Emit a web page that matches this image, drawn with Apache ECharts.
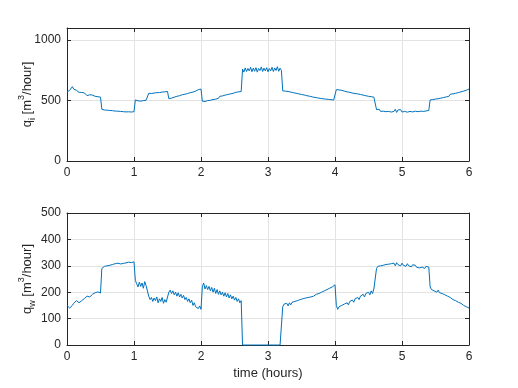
<!DOCTYPE html>
<html>
<head>
<meta charset="utf-8">
<script src="https://cdn.jsdelivr.net/npm/echarts@6/dist/echarts.min.js"></script>
<style>html,body{margin:0;padding:0;background:#fff}#c{width:518px;height:388px}</style>
</head>
<body>
<div id="c"></div>
<script>
// time step 0.02 h, 0..6 h (301 samples)
const qi = [
  570,575,585,600,615,595,590,585,570,568, 565,567,560,563,555,540,545,548,550,545, 540,535,538,532,530,528,
  428,425,422,426,420,424,418,421,416,420, 413,418,412,416,410,414,408,413,406,412, 407,410,405,411,408,
  505,515,498,510,495,508,500,512,502,512, 560,572,558,570,562,575,565,578,566,580, 570,582,572,585,575,
  515,505,520,510,528,518,535,525,540,530, 548,538,552,542,558,548,565,555,570,560, 578,568,590,578,595,
  495,505,492,508,500,512,502,518,508,522, 512,528,518,535,522,538,528,545,535,550, 540,555,548,560,552,568,558,572,565,575,
  760,735,770,740,765,745,775,738,768,742, 772,735,765,748,778,740,768,745,772,738, 765,745,775,740,770,748,780,742,768,750,
  580,590,578,588,575,582,570,578,565,572, 560,566,555,560,550,555,546,550,540,545, 536,540,530,535,526,530,522,527,518,522, 515,520,512,516,510,513,507,510,504,502,
  590,598,588,595,585,590,578,585,572,580, 568,575,562,570,558,566,555,562,550,558, 545,552,540,548,535,545,532,540,528,535,
  425,415,428,410,422,412,425,408,420,410, 426,405,420,410,428,402,422,412,425,405, 420,410,426,404,418,410,425,406,420,412, 428,408,422,412,426,410,424,414,428,418,
  505,515,508,520,512,525,515,530,520,535, 525,540,530,545,535,552,540,555,545,560, 550,565,555,572,560,578,568,585,575,595
];
const qw = [
  150,143,140,145,150,158,163,168,162,160, 163,168,172,176,180,185,184,182,186,192, 195,198,200,201,198,197,
  290,296,298,297,300,299,302,300,305,303, 308,306,310,304,307,305,309,306,311,308, 314,309,312,310,315,
  245,232,220,238,222,235,215,240,225,230, 185,172,180,165,178,168,182,160,175,165, 180,158,172,162,155,
  200,208,195,205,190,200,185,198,182,192, 178,188,172,180,165,175,160,170,150,160, 145,152,138,148,135,
  220,235,212,225,210,222,205,218,200,215, 195,210,192,205,190,200,185,198,182,195, 178,190,175,185,170,180,165,175,160,168,
  0,0,0,0,0,0,0,0,0,0, 0,0,0,0,0,0,0,0,0,0, 0,0,0,0,0,0,0,0,0,0,
  145,155,150,158,148,160,152,162,155,165, 160,168,165,172,170,175,172,178,176,180, 178,182,180,185,188,192,190,195,198,200, 202,205,208,210,212,215,218,220,222,228,
  150,135,145,140,150,145,155,148,160,152, 165,158,170,162,175,168,180,172,185,178, 192,182,195,188,200,190,205,195,212,205,
  290,298,292,300,295,302,296,305,298,306, 300,308,302,310,300,312,304,308,300,310, 302,306,298,308,300,305,296,304,298,302, 294,300,292,298,295,300,290,298,292,295,
  220,210,215,205,212,200,208,198,205,195, 200,190,195,185,190,180,185,172,178,168, 172,162,168,158,160,150,155,145,148,140
];
const TIME_STEP = 0.02;
const time = qi.map((_, i) => +(i * TIME_STEP).toFixed(2));
const xTicks = [0, 1, 2, 3, 4, 5, 6];
const yTicksTop = [0, 500, 1000];
const yTicksBottom = [0, 100, 200, 300, 400, 500];

const FONT = 'Liberation Sans';
const TXT = '#262626';
const GRIDC = '#e3e3e3';
const nameRich = {
  b: {fontFamily: FONT, fontSize: 13, color: TXT, lineHeight: 20, verticalAlign: 'middle'},
  sub: {fontFamily: FONT, fontSize: 9, color: TXT, lineHeight: 9, verticalAlign: 'bottom'},
  sup: {fontFamily: FONT, fontSize: 9, color: TXT, lineHeight: 9, verticalAlign: 'top'}
};

function mainX(gi, showName) {
  return {
    type: 'value', gridIndex: gi, min: xTicks[0], max: xTicks[xTicks.length - 1], interval: 1,
    axisLine: {show: true, onZero: false, lineStyle: {color: TXT, width: 1}},
    axisTick: {show: true, inside: true, length: 4, lineStyle: {color: TXT}},
    axisLabel: {fontFamily: FONT, fontSize: 12, color: TXT, margin: 6, formatter: v => String(v)},
    splitLine: {show: true, lineStyle: {color: GRIDC, width: 1}},
    name: showName ? 'time (hours)' : '', nameLocation: 'middle', nameGap: 22, nameMoveOverlap: false,
    nameTextStyle: {fontFamily: FONT, fontSize: 13, color: TXT}
  };
}
function boxX(gi) {
  return {
    type: 'value', gridIndex: gi, position: 'top', min: 0, max: 6, interval: 1,
    axisLine: {show: true, onZero: false, lineStyle: {color: TXT}},
    axisTick: {show: true, inside: true, length: 4, lineStyle: {color: TXT}},
    axisLabel: {show: false}, splitLine: {show: false}
  };
}
function mainY(gi, ticks, max, name) {
  return {
    type: 'value', gridIndex: gi, min: ticks[0], max: max, interval: ticks[1] - ticks[0],
    axisLine: {show: true, onZero: false, lineStyle: {color: TXT}},
    axisTick: {show: true, inside: true, length: 4, lineStyle: {color: TXT}},
    axisLabel: {fontFamily: FONT, fontSize: 12, color: TXT, margin: 6, formatter: v => String(v),
                showMaxLabel: max === ticks[ticks.length - 1]},
    splitLine: {show: true, lineStyle: {color: GRIDC, width: 1}},
    name: name, nameLocation: 'middle', nameGap: 30, nameRotate: 90, nameMoveOverlap: false,
    nameTextStyle: {rich: nameRich}
  };
}
function boxY(gi, ticks, max) {
  return {
    type: 'value', gridIndex: gi, position: 'right', min: ticks[0], max: max, interval: ticks[1] - ticks[0],
    axisLine: {show: true, onZero: false, lineStyle: {color: TXT}},
    axisTick: {show: true, inside: true, length: 4, lineStyle: {color: TXT}},
    axisLabel: {show: false}, splitLine: {show: false}
  };
}

const chart = echarts.init(document.getElementById('c'), null, {renderer: 'canvas'});
chart.setOption({
  backgroundColor: '#fff',
  animation: false,
  grid: [
    {left: 67, right: 49, top: 28, height: 133, containLabel: false, outerBoundsMode: 'none'},
    {left: 67, right: 49, top: 213, height: 132, containLabel: false, outerBoundsMode: 'none'}
  ],
  xAxis: [mainX(0, false), mainX(1, true), boxX(0), boxX(1)],
  yAxis: [
    mainY(0, yTicksTop, 1100, '{b|q}{sub|i}{b| [m}{sup|3}{b|/hour]}'),
    mainY(1, yTicksBottom, 500, '{b|q}{sub|w}{b| [m}{sup|3}{b|/hour]}'),
    boxY(0, yTicksTop, 1100),
    boxY(1, yTicksBottom, 500)
  ],
  series: [
    {type: 'line', xAxisIndex: 0, yAxisIndex: 0, data: time.map((t, i) => [t, qi[i]]),
     showSymbol: false, lineStyle: {color: '#0072BD', width: 1}, clip: false, z: 5},
    {type: 'line', xAxisIndex: 1, yAxisIndex: 1, data: time.map((t, i) => [t, qw[i]]),
     showSymbol: false, lineStyle: {color: '#0072BD', width: 1}, clip: false, z: 5}
  ]
});
</script>
</body>
</html>
